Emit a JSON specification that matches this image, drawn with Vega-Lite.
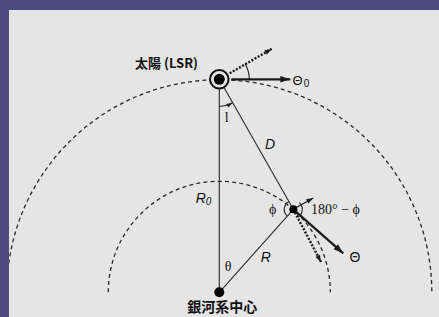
{
  "$schema": "https://vega.github.io/schema/vega-lite/v6.json",
  "width": 430,
  "height": 307,
  "autosize": "none",
  "padding": {"left": 9, "top": 10, "right": 0, "bottom": 0},
  "background": "#4b4b7e",
  "config": {"view": {"stroke": null, "fill": "#e5e5e5"}},
  "datasets": {
    "arcs": [
      {"name": "orbitSun", "x": 0, "y": 0},
      {"name": "orbitStar", "x": 0, "y": 0},
      {"name": "angleL", "x": 0, "y": 213},
      {"name": "angleTheta0", "x": 0, "y": 213},
      {"name": "phi", "x": 74, "y": 83},
      {"name": "phiSup", "x": 74, "y": 83}
    ],
    "lines": [
      {"name": "R0", "x": 0, "y": 213, "x2": 0, "y2": 0},
      {"name": "D", "x": 0, "y": 213, "x2": 74, "y2": 83},
      {"name": "R", "x": 74, "y": 83, "x2": 0, "y2": 0}
    ],
    "arrows": [
      {"name": "Theta0", "x": 12, "y": 213, "x2": 71, "y2": 213, "heading": 0},
      {"name": "Theta", "x": 74, "y": 83, "x2": 124, "y2": 39, "heading": 41.3},
      {"name": "sunLOS", "x": 10.4, "y": 219, "x2": 52.4, "y2": 243.4, "heading": -30},
      {"name": "starLOS", "x": 74, "y": 83, "x2": 101.7, "y2": 30.3, "heading": 62.3},
      {"name": "perp", "x": 74, "y": 83, "x2": 94, "y2": 94.3, "heading": -29.5}
    ],
    "arcHeads": [
      {"name": "angleL", "x": 13.3, "y": 189.5, "heading": -29.5}
    ],
    "bodies": [
      {"name": "sun", "x": 0, "y": 213},
      {"name": "star", "x": 74, "y": 83},
      {"name": "center", "x": 0, "y": 0}
    ],
    "labels": [
      {"label": "太陽 (LSR)", "font": "cjkSmall", "x": -21.3, "y": 228.3},
      {"label": "銀河系中心", "font": "cjkBig", "x": 3, "y": -15.8},
      {"label": "Θ", "font": "sans", "x": 78.2, "y": 211.3},
      {"label": "0", "font": "sansSub", "x": 87.3, "y": 208.8},
      {"label": "Θ", "font": "sansBig", "x": 135.7, "y": 34},
      {"label": "D", "font": "italic", "x": 50.7, "y": 147.3},
      {"label": "R", "font": "italic", "x": -18.6, "y": 93},
      {"label": "0", "font": "italicSub", "x": -10.8, "y": 90.8},
      {"label": "R", "font": "italic", "x": 46.4, "y": 34},
      {"label": "l", "font": "serif", "x": 7.4, "y": 174},
      {"label": "θ", "font": "serif", "x": 8.7, "y": 25.6},
      {"label": "ϕ", "font": "serif", "x": 53.4, "y": 82.3},
      {"label": "180° − ϕ", "font": "serif", "x": 116.2, "y": 82.3}
    ]
  },
  "encoding": {
    "x": {"field": "x", "type": "quantitative", "scale": {"domain": [-210.3, 219.7], "nice": false, "zero": false}, "axis": null},
    "y": {"field": "y", "type": "quantitative", "scale": {"domain": [-24.7, 282.3], "nice": false, "zero": false}, "axis": null}
  },
  "layer": [
    {
      "data": {"name": "arcs"},
      "transform": [{"filter": "datum.name === 'orbitSun'"}],
      "mark": {"type": "point", "shape": "M -1 0 A 1 1 0 0 1 1 0", "size": 180625, "filled": false, "color": "#2a2a2a", "strokeWidth": 1.3, "strokeDash": [4, 3.2], "opacity": 1, "clip": true}
    },
    {
      "data": {"name": "arcs"},
      "transform": [{"filter": "datum.name === 'orbitStar'"}],
      "mark": {"type": "point", "shape": "M -1 0 A 1 1 0 0 1 1 0", "size": 49284, "filled": false, "color": "#2a2a2a", "strokeWidth": 1.3, "strokeDash": [4, 3.2], "opacity": 1, "clip": true}
    },
    {
      "data": {"name": "lines"},
      "mark": {"type": "rule", "color": "#2a2a2a", "strokeWidth": 1.1},
      "encoding": {"x2": {"field": "x2"}, "y2": {"field": "y2"}}
    },
    {
      "data": {"name": "arcs"},
      "transform": [{"filter": "datum.name === 'angleL'"}],
      "mark": {"type": "point", "shape": "M 0 1 A 1 1 0 0 0 0.492 0.87", "size": 2916, "filled": false, "color": "#2a2a2a", "strokeWidth": 1.2, "opacity": 1}
    },
    {
      "data": {"name": "arcs"},
      "transform": [{"filter": "datum.name === 'angleTheta0'"}],
      "mark": {"type": "point", "shape": "M 1 0 A 1 1 0 0 0 0.866 -0.5", "size": 3600, "filled": false, "color": "#2a2a2a", "strokeWidth": 1.2, "opacity": 1}
    },
    {
      "data": {"name": "arcs"},
      "transform": [{"filter": "datum.name === 'phi'"}],
      "mark": {"type": "point", "shape": "M -0.665 0.747 A 1 1 0 0 1 -0.492 -0.87", "size": 324, "filled": false, "color": "#2a2a2a", "strokeWidth": 1.2, "opacity": 1}
    },
    {
      "data": {"name": "arcs"},
      "transform": [{"filter": "datum.name === 'phiSup'"}],
      "mark": {"type": "point", "shape": "M 0.669 -0.743 A 1 1 0 0 1 0.492 0.87", "size": 324, "filled": false, "color": "#2a2a2a", "strokeWidth": 1.2, "opacity": 1}
    },
    {
      "data": {"name": "arrows"},
      "transform": [{"filter": "datum.name === 'Theta0' || datum.name === 'Theta'"}],
      "mark": {"type": "rule", "color": "#1a1a1a", "strokeWidth": 2.2},
      "encoding": {"x2": {"field": "x2"}, "y2": {"field": "y2"}}
    },
    {
      "data": {"name": "arrows"},
      "transform": [{"filter": "datum.name === 'sunLOS' || datum.name === 'starLOS'"}],
      "mark": {"type": "rule", "color": "#1a1a1a", "strokeWidth": 2.4, "strokeDash": [2, 1.6]},
      "encoding": {"x2": {"field": "x2"}, "y2": {"field": "y2"}}
    },
    {
      "data": {"name": "arrows"},
      "transform": [{"filter": "datum.name === 'perp'"}],
      "mark": {"type": "rule", "color": "#1a1a1a", "strokeWidth": 1.2},
      "encoding": {"x2": {"field": "x2"}, "y2": {"field": "y2"}}
    },
    {
      "data": {"name": "arrows"},
      "transform": [{"filter": "datum.name === 'Theta0' || datum.name === 'Theta'"}],
      "mark": {"type": "point", "shape": "M 0 0 L -2 -0.65 L -2 0.65 Z", "size": 100, "filled": true, "color": "#1a1a1a", "opacity": 1},
      "encoding": {"x": {"field": "x2", "type": "quantitative"}, "y": {"field": "y2", "type": "quantitative"}, "angle": {"field": "heading", "type": "quantitative", "scale": null}}
    },
    {
      "data": {"name": "arrows"},
      "transform": [{"filter": "datum.name === 'sunLOS' || datum.name === 'starLOS' || datum.name === 'perp'"}],
      "mark": {"type": "point", "shape": "M 0 0 L -2 -0.7 L -2 0.7 Z", "size": 49, "filled": true, "color": "#1a1a1a", "opacity": 1},
      "encoding": {"x": {"field": "x2", "type": "quantitative"}, "y": {"field": "y2", "type": "quantitative"}, "angle": {"field": "heading", "type": "quantitative", "scale": null}}
    },
    {
      "data": {"name": "arcHeads"},
      "mark": {"type": "point", "shape": "M 0 0 L -2 -0.7 L -2 0.7 Z", "size": 36, "filled": true, "color": "#1a1a1a", "opacity": 1},
      "encoding": {"angle": {"field": "heading", "type": "quantitative", "scale": null}}
    },
    {
      "data": {"name": "bodies"},
      "transform": [{"filter": "datum.name === 'sun'"}],
      "mark": {"type": "point", "shape": "circle", "size": 346, "fill": "#e5e5e5", "stroke": "#111111", "strokeWidth": 2, "opacity": 1}
    },
    {
      "data": {"name": "bodies"},
      "transform": [{"filter": "datum.name === 'sun'"}],
      "mark": {"type": "point", "shape": "circle", "size": 120, "filled": true, "color": "#000000", "opacity": 1}
    },
    {
      "data": {"name": "bodies"},
      "transform": [{"filter": "datum.name === 'star'"}],
      "mark": {"type": "point", "shape": "circle", "size": 64, "filled": true, "color": "#000000", "opacity": 1}
    },
    {
      "data": {"name": "bodies"},
      "transform": [{"filter": "datum.name === 'center'"}],
      "mark": {"type": "point", "shape": "circle", "size": 100, "filled": true, "color": "#000000", "opacity": 1}
    },
    {
      "data": {"name": "labels"},
      "transform": [{"filter": "datum.font === 'cjkSmall'"}],
      "mark": {"type": "text", "font": "Noto Sans CJK JP", "fontWeight": "bold", "fontSize": 13, "align": "right", "baseline": "middle", "color": "#111111"},
      "encoding": {"text": {"field": "label"}}
    },
    {
      "data": {"name": "labels"},
      "transform": [{"filter": "datum.font === 'cjkBig'"}],
      "mark": {"type": "text", "font": "Noto Sans CJK JP", "fontWeight": "bold", "fontSize": 14, "align": "center", "baseline": "middle", "color": "#111111"},
      "encoding": {"text": {"field": "label"}}
    },
    {
      "data": {"name": "labels"},
      "transform": [{"filter": "datum.font === 'sans'"}],
      "mark": {"type": "text", "font": "Liberation Sans", "fontSize": 13, "align": "center", "baseline": "middle", "color": "#111111"},
      "encoding": {"text": {"field": "label"}}
    },
    {
      "data": {"name": "labels"},
      "transform": [{"filter": "datum.font === 'sansBig'"}],
      "mark": {"type": "text", "font": "Liberation Sans", "fontSize": 14, "align": "center", "baseline": "middle", "color": "#111111"},
      "encoding": {"text": {"field": "label"}}
    },
    {
      "data": {"name": "labels"},
      "transform": [{"filter": "datum.font === 'sansSub'"}],
      "mark": {"type": "text", "font": "Liberation Sans", "fontSize": 10, "align": "center", "baseline": "middle", "color": "#111111"},
      "encoding": {"text": {"field": "label"}}
    },
    {
      "data": {"name": "labels"},
      "transform": [{"filter": "datum.font === 'italic'"}],
      "mark": {"type": "text", "font": "Liberation Sans", "fontStyle": "italic", "fontSize": 14, "align": "center", "baseline": "middle", "color": "#111111"},
      "encoding": {"text": {"field": "label"}}
    },
    {
      "data": {"name": "labels"},
      "transform": [{"filter": "datum.font === 'italicSub'"}],
      "mark": {"type": "text", "font": "Liberation Sans", "fontStyle": "italic", "fontSize": 10, "align": "center", "baseline": "middle", "color": "#111111"},
      "encoding": {"text": {"field": "label"}}
    },
    {
      "data": {"name": "labels"},
      "transform": [{"filter": "datum.font === 'serif'"}],
      "mark": {"type": "text", "font": "Liberation Serif", "fontSize": 14, "align": "center", "baseline": "middle", "color": "#111111"},
      "encoding": {"text": {"field": "label"}}
    }
  ]
}
